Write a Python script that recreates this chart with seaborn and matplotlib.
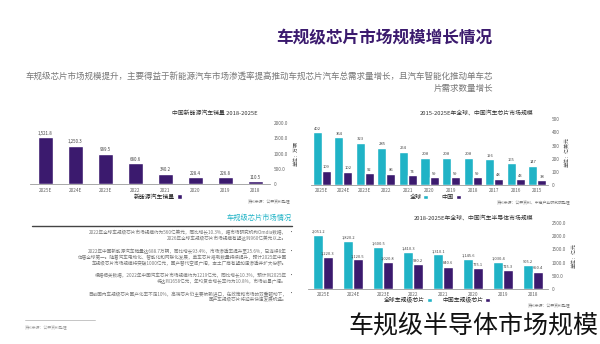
import matplotlib
matplotlib.use("Agg")
import matplotlib.pyplot as plt
import seaborn as sns
import pandas as pd
from matplotlib.patches import Patch
from matplotlib.lines import Line2D

# ---------------- data ----------------
years_a = ["2018", "2019", "2020", "2021", "2022", "2023E", "2024E", "2025E"]
nev_sales = [110.5, 226.8, 228.4, 340.2, 680.6, 989.5, 1250.3, 1521.8]

years_b = ["2015", "2016", "2017", "2018", "2019", "2020", "2021", "2022", "2023E", "2024E", "2025E"]
global_chip = [147, 165, 196, 208, 208, 208, 254, 285, 323, 364, 402]
china_chip = [38, 43, 48, 59, 59, 59, 74, 86, 92, 102, 109]

years_c = ["2018", "2019", "2020", "2021", "2022", "2023E", "2024E", "2025E"]
global_semi = [905.2, 1030.4, 1145.6, 1310.1, 1410.3, 1600.5, 1820.2, 2051.2]
china_semi = [650.4, 715.3, 775.1, 840.6, 930.2, 1020.8, 1120.5, 1220.3]

series_b = ["全球", "中国"]
series_c = ["全球车规级芯片", "中国车规级芯片"]

PURPLE = "#3b1a6e"
TEAL = "#20b3c6"
GRAY = "#8a8a8a"

sns.set_theme(style="white")
plt.rcParams["font.family"] = ["Noto Sans CJK SC", "DejaVu Sans"]

W, H = 600, 344
fig = plt.figure(figsize=(6.0, 3.44), dpi=100)
fig.patch.set_facecolor("white")


def px_axes(x0, y0, x1, y1):
    return fig.add_axes([x0 / W, 1 - y1 / H, (x1 - x0) / W, (y1 - y0) / H])


def ftext(x, y, s, **kw):
    return fig.text(x / W, 1 - y / H, s, **kw)


def style_axes(ax, ylim, ticks, ticklabels, ylabel):
    ax.set_ylim(*ylim)
    ax.yaxis.tick_right()
    ax.set_yticks(ticks)
    ax.set_yticklabels(ticklabels)
    ax.yaxis.set_label_position("right")
    ax.set_ylabel(ylabel, fontsize=3.6, color="#555555", labelpad=4)
    ax.set_xlabel("")
    ax.tick_params(axis="both", length=0, labelsize=3.4, colors="#666666", pad=2.5)
    for s in ["top", "left", "right"]:
        ax.spines[s].set_visible(False)
    ax.spines["bottom"].set_color("#9a9a9a")
    ax.spines["bottom"].set_linewidth(0.6)
    ax.set_facecolor("white")
    if ax.get_legend() is not None:
        ax.get_legend().remove()


def fmt(v, dec=1):
    return f"{v:,.{dec}f}"


# ---------------- header ----------------
ftext(492, 38, "车规级芯片市场规模增长情况", ha="right", va="center",
      fontsize=12, fontweight="bold", color=PURPLE)
ftext(493, 76, "车规级芯片市场规模提升，主要得益于新能源汽车市场渗透率提高推动车规芯片汽车总需求量增长，且汽车智能化推动单车芯",
      ha="right", va="center", fontsize=6.15, color="#777777")
ftext(493, 88, "片需求数量增长", ha="right", va="center", fontsize=6.15, color="#777777")

# ---------------- chart A (top-left) ----------------
axA = px_axes(30, 122.7, 270, 184.3)
dfA = pd.DataFrame({"year": years_a, "value": nev_sales})
sns.barplot(data=dfA, x="year", y="value", order=years_a[::-1], color=PURPLE,
            width=0.5, ax=axA, saturation=1)
style_axes(axA, (0, 2000), [0, 500, 1000, 1500, 2000],
           ["0", "500.0", "1000.0", "1500.0", "2000.0"], "单位：万辆")
for c in axA.containers:
    axA.bar_label(c, labels=[fmt(v) for v in dfA.set_index("year").loc[years_a[::-1], "value"]],
                  fontsize=3.2, color="#444444", padding=1)
ftext(258, 113, "中国新能源汽车销量 2018-2025E", ha="right", va="center",
      fontsize=4.2, color="#333333")
axA.legend(handles=[Patch(facecolor=PURPLE)], labels=["新能源汽车销量"], markerfirst=False,
           loc="center", bbox_to_anchor=((158 - 30) / 240, (184.3 - 197) / 61.6),
           frameon=False, fontsize=4.2, handlelength=0.8, handleheight=0.8, handletextpad=0.3,
           borderpad=0)
ftext(290, 202, "资料来源：公开资料整理", ha="right", va="center", fontsize=2.8, color="#777777")

# ---------------- chart B (top-right) ----------------
axB = px_axes(311, 119.3, 548, 185)
dfB = pd.DataFrame({
    "year": years_b * 2,
    "series": [series_b[0]] * len(years_b) + [series_b[1]] * len(years_b),
    "value": global_chip + china_chip,
})
sns.barplot(data=dfB, x="year", y="value", hue="series", order=years_b[::-1],
            hue_order=series_b, palette=[TEAL, PURPLE], width=0.84, ax=axB, saturation=1)
style_axes(axB, (0, 500), [0, 100, 200, 300, 400, 500],
           ["0", "100", "200", "300", "400", "500"], "单位：亿美元")
for c, vals in zip(axB.containers, [global_chip, china_chip]):
    axB.bar_label(c, labels=[str(v) for v in vals[::-1]], fontsize=3.0, color="#444444", padding=1)
ftext(533, 113, "2015-2025E年全球、中国汽车芯片市场规模", ha="right", va="center",
      fontsize=4.2, color="#333333")
axB.legend(handles=[Patch(facecolor=TEAL), Patch(facecolor=PURPLE)], labels=series_b,
           markerfirst=False, ncol=2, loc="center",
           bbox_to_anchor=((435 - 311) / 237, (185 - 197) / 65.7),
           frameon=False, fontsize=4.4, handlelength=0.8, handleheight=0.8,
           handletextpad=0.3, columnspacing=2.2, borderpad=0)
ftext(570, 203, "资料来源：公开资料、中商产业研究院整理", ha="right", va="center",
      fontsize=2.8, color="#777777")

# ---------------- chart C (bottom-right) ----------------
axC = px_axes(308, 223.3, 548, 288.7)
dfC = pd.DataFrame({
    "year": years_c * 2,
    "series": [series_c[0]] * len(years_c) + [series_c[1]] * len(years_c),
    "value": global_semi + china_semi,
})
sns.barplot(data=dfC, x="year", y="value", hue="series", order=years_c[::-1],
            hue_order=series_c, palette=[TEAL, PURPLE], width=0.64, ax=axC, saturation=1)
style_axes(axC, (0, 2500), [0, 500, 1000, 1500, 2000, 2500],
           ["0", "500.0", "1000.0", "1500.0", "2000.0", "2500.0"], "单位：亿元")
for c, vals in zip(axC.containers, [global_semi, china_semi]):
    axC.bar_label(c, labels=[fmt(v) for v in vals[::-1]], fontsize=2.9, color="#444444", padding=1)
ftext(533, 218, "2018-2025E年全球、中国汽车半导体市场规模", ha="right", va="center",
      fontsize=4.2, color="#333333")
axC.legend(handles=[Patch(facecolor=TEAL), Patch(facecolor=PURPLE)], labels=series_c,
           markerfirst=False, ncol=2, loc="center",
           bbox_to_anchor=((437 - 308) / 240, (288.7 - 300) / 65.4),
           frameon=False, fontsize=4.2, handlelength=0.8, handleheight=0.8,
           handletextpad=0.3, columnspacing=1.8, borderpad=0)
ftext(570, 306, "资料来源：公开资料整理", ha="right", va="center", fontsize=2.8, color="#777777")

# ---------------- bottom-left text block ----------------
ftext(292, 218, "车规级芯片市场情况", ha="right", va="center", fontsize=5.2, color=TEAL)
fig.add_artist(Line2D([32 / W, 292 / W], [1 - 225.5 / H, 1 - 225.5 / H],
                      color="#444444", linewidth=1.0))

bullets = [
    [(233, "2022年全球车规级芯片市场规模约为560亿美元，同比增长10.3%，据市场研究机构Omdia数据，"),
     (238.5, "2026年全球车规级芯片市场规模有望达到960亿美元以上。")],
    [(252, "2022年中国新能源汽车销量达688.7万辆，同比增长93.4%，市场渗透率提升至25.6%，已连续8年"),
     (257.5, "位居全球第一。随着汽车电动化、智能化和网联化发展，单车芯片搭载数量持续提升，预计2025年中国"),
     (263, "车规级芯片市场规模将突破1000亿元，国产替代空间广阔，本土厂商有望加速渗透并扩大份额。")],
    [(276, "根据相关数据，2022年中国汽车芯片市场规模约为1219亿元，同比增长10.3%，预计到2025年"),
     (281.5, "将达到1658亿元，年均复合增长率约为10.8%，市场前景广阔。")],
    [(294, "目前国内车规级芯片国产化率不足10%，高端芯片仍主要依赖进口，在政策和市场的双重驱动下，"),
     (299.5, "国产车规级芯片将迎来快速发展机遇。")],
]
for group in bullets:
    ftext(291, group[0][0], "•", ha="center", va="center", fontsize=3.6, color="#555555")
    for y, s in group:
        ftext(287, y, s, ha="right", va="center", fontsize=3.3, color="#777777")

fig.add_artist(Line2D([25 / W, 95 / W], [1 - 320 / H, 1 - 320 / H],
                      color="#bbbbbb", linewidth=0.6))
ftext(25, 328, "资料来源：公开资料整理", ha="left", va="center", fontsize=2.8, color="#999999")

# ---------------- caption ----------------
ftext(598, 327, "车规级半导体市场规模", ha="right", va="center", fontsize=18,
      fontweight="light", color="#111111")

fig.savefig("out.png", dpi=100, facecolor="white")
